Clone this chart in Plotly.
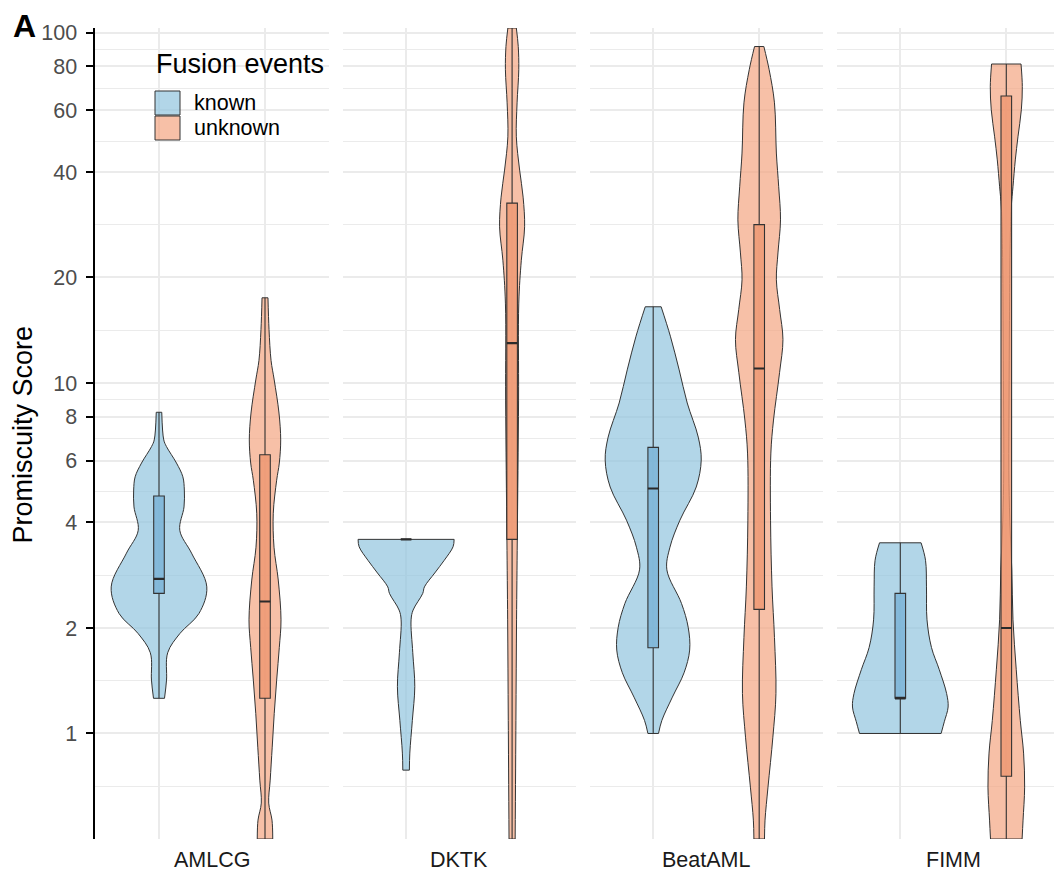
import numpy as np
import plotly.graph_objects as go

# ---------------- data ----------------
datasets = ["AMLCG", "DKTK", "BeatAML", "FIMM"]
fusion_groups = ["known", "unknown"]

# violin profiles: score levels (top -> bottom) and density half-width (x units)
amlcg_known_score = [8.25, 6.88, 6.59, 5.91, 5.40, 4.95, 4.43, 3.80, 3.27, 2.62, 2.20, 1.93, 1.70, 1.42, 1.26]
amlcg_known_dens = [0.026, 0.045, 0.070, 0.165, 0.225, 0.239, 0.236, 0.196, 0.307, 0.451, 0.377, 0.198, 0.082, 0.071, 0.052]

amlcg_unknown_score = [17.5, 14.2, 11.6, 10.2, 8.21, 6.88, 5.91, 5.28, 4.25, 3.40, 2.74, 2.11, 1.76, 1.42, 1.14, 0.914, 0.736, 0.633, 0.566, 0.5]
amlcg_unknown_dens = [0.028, 0.038, 0.057, 0.087, 0.132, 0.148, 0.135, 0.110, 0.078, 0.085, 0.125, 0.151, 0.135, 0.110, 0.087, 0.068, 0.049, 0.035, 0.066, 0.073]

dktk_known_score = [3.58, 3.41, 3.12, 2.87, 2.62, 2.51, 2.25, 2.11, 1.70, 1.36, 1.09, 0.879, 0.786]
dktk_known_dens = [0.453, 0.443, 0.360, 0.270, 0.173, 0.157, 0.066, 0.047, 0.063, 0.082, 0.059, 0.035, 0.031]

dktk_unknown_score = [103, 91.2, 78.3, 63.0, 50.4, 40.5, 33.9, 27.9, 22.4, 16.9, 8.94, 3.58, 2.11, 1.09, 0.5]
dktk_unknown_dens = [0.040, 0.058, 0.063, 0.047, 0.040, 0.071, 0.104, 0.118, 0.087, 0.063, 0.061, 0.049, 0.042, 0.036, 0.029]

beataml_known_score = [16.5, 13.6, 10.9, 8.77, 7.01, 6.03, 5.05, 4.06, 3.40, 2.93, 2.35, 2.01, 1.73, 1.49, 1.27, 1.09, 1.0]
beataml_known_dens = [0.075, 0.162, 0.245, 0.321, 0.425, 0.453, 0.406, 0.252, 0.158, 0.129, 0.267, 0.330, 0.344, 0.291, 0.181, 0.082, 0.050]

beataml_unknown_score = [91.2, 78.3, 63.0, 45.3, 36.3, 29.2, 23.5, 19.7, 16.2, 13.3, 10.7, 7.84, 6.31, 4.06, 2.62, 1.88, 1.30, 0.976, 0.703, 0.566, 0.5]
beataml_unknown_dens = [0.044, 0.094, 0.144, 0.162, 0.184, 0.201, 0.177, 0.162, 0.193, 0.224, 0.192, 0.135, 0.110, 0.107, 0.121, 0.144, 0.158, 0.129, 0.083, 0.055, 0.050]

fimm_known_score = [3.50, 3.12, 2.62, 2.11, 1.76, 1.52, 1.30, 1.19, 1.08, 1.0]
fimm_known_dens = [0.196, 0.238, 0.247, 0.252, 0.294, 0.368, 0.437, 0.451, 0.415, 0.385]

fimm_unknown_score = [81.3, 70.1, 60.2, 50.4, 43.3, 36.3, 31.8, 24.0, 15.1, 8.94, 5.64, 4.06, 2.93, 2.11, 1.52, 1.09, 0.879, 0.703, 0.566, 0.5]
fimm_unknown_dens = [0.139, 0.151, 0.142, 0.110, 0.085, 0.063, 0.047, 0.036, 0.030, 0.026, 0.024, 0.033, 0.052, 0.063, 0.094, 0.132, 0.163, 0.173, 0.158, 0.149]

violin_score = {
    ("AMLCG", "known"): amlcg_known_score, ("AMLCG", "unknown"): amlcg_unknown_score,
    ("DKTK", "known"): dktk_known_score, ("DKTK", "unknown"): dktk_unknown_score,
    ("BeatAML", "known"): beataml_known_score, ("BeatAML", "unknown"): beataml_unknown_score,
    ("FIMM", "known"): fimm_known_score, ("FIMM", "unknown"): fimm_unknown_score,
}
violin_dens = {
    ("AMLCG", "known"): amlcg_known_dens, ("AMLCG", "unknown"): amlcg_unknown_dens,
    ("DKTK", "known"): dktk_known_dens, ("DKTK", "unknown"): dktk_unknown_dens,
    ("BeatAML", "known"): beataml_known_dens, ("BeatAML", "unknown"): beataml_unknown_dens,
    ("FIMM", "known"): fimm_known_dens, ("FIMM", "unknown"): fimm_unknown_dens,
}

# boxplot statistics per dataset
known_q1 = [2.51, 3.58, 1.756, 1.26]
known_median = [2.76, 3.58, 5.0, 1.26]
known_q3 = [4.76, 3.58, 6.55, 2.51]
known_lower = [1.26, 3.58, 1.0, 1.0]
known_upper = [8.25, 3.58, 16.5, 3.5]

unknown_q1 = [1.26, 3.58, 2.26, 0.755]
unknown_median = [2.38, 13.0, 11.0, 2.0]
unknown_q3 = [6.24, 32.6, 28.3, 65.9]
unknown_lower = [0.5, 0.5, 0.5, 0.5]
unknown_upper = [17.5, 103, 91.2, 81.3]

box_stats = {
    "known": (known_q1, known_median, known_q3, known_lower, known_upper),
    "unknown": (unknown_q1, unknown_median, unknown_q3, unknown_lower, unknown_upper),
}

y_ticks = [1, 2, 4, 6, 8, 10, 20, 40, 60, 80, 100]
y_min, y_max = 0.5, 103

# ---------------- style ----------------
OFF = 8                      # page body margin of the html page
WIN_W, WIN_H = 1062, 877
W, H = WIN_W - OFF, WIN_H - OFF
PLOT_TOP, PLOT_BOT = 28, 839  # target (window) pixels
M_T, M_B = PLOT_TOP - OFF, WIN_H - PLOT_BOT
PLOT_H = H - M_T - M_B
FONT = "Liberation Sans, Arial, Helvetica, sans-serif"
fill_col = {"known": "rgba(146,197,222,0.7)", "unknown": "rgba(244,165,130,0.7)"}
box_col = {"known": "rgba(120,178,214,0.8)", "unknown": "rgba(238,150,112,0.8)"}
edge = "#333333"
grid = "#EBEBEB"
pos = {"known": 1, "unknown": 2}
BOX_W = 0.1

px_per_unit = 106.0
panel_left = [95.4 + 247.1 * i - OFF for i in range(4)]
panel_w = 2.2 * px_per_unit


def fx(xwin):
    return (xwin - OFF) / W


def fy(ywin):
    return (PLOT_BOT - ywin) / PLOT_H


def ax(prefix, i):
    return prefix if i == 0 else f"{prefix}{i+1}"


fig = go.Figure()

# violins: left outline, right outline filled to the left one, flat end caps
for i, ds in enumerate(datasets):
    xa, ya = ax("x", i), ax("y", i)
    for g in fusion_groups:
        s = np.array(violin_score[(ds, g)], dtype=float)
        d = np.array(violin_dens[(ds, g)], dtype=float)
        c = pos[g]
        line = dict(color=edge, width=1, shape="spline", smoothing=1.0)
        fig.add_trace(go.Scatter(x=c - d, y=s, xaxis=xa, yaxis=ya, mode="lines",
                                 line=line, showlegend=False, hoverinfo="skip"))
        fig.add_trace(go.Scatter(x=c + d, y=s, xaxis=xa, yaxis=ya, mode="lines",
                                 line=line, fill="tonextx", fillcolor=fill_col[g],
                                 showlegend=False, hoverinfo="skip"))
        fig.add_trace(go.Scatter(
            x=[c - d[0], c + d[0], None, c - d[-1], c + d[-1]],
            y=[s[0], s[0], None, s[-1], s[-1]], xaxis=xa, yaxis=ya, mode="lines",
            line=dict(color=edge, width=1), showlegend=False, hoverinfo="skip"))

# boxes (on overlaying x axes so they sit above the violins)
for i, ds in enumerate(datasets):
    xa, ya = f"x{i+5}", ax("y", i)
    for g in fusion_groups:
        q1, med, q3, lo, hi = box_stats[g]
        fig.add_trace(go.Box(
            x=[pos[g]], q1=[q1[i]], median=[med[i]], q3=[q3[i]],
            lowerfence=[lo[i]], upperfence=[hi[i]], width=BOX_W, whiskerwidth=0,
            fillcolor=box_col[g], line=dict(color=edge, width=1.1), boxpoints=False,
            xaxis=xa, yaxis=ya, showlegend=False, hoverinfo="skip"))
    # thicker median bars, as in the boxplot style
    for g in fusion_groups:
        med = box_stats[g][1][i]
        fig.add_trace(go.Scatter(
            x=[pos[g] - BOX_W / 2, pos[g] + BOX_W / 2], y=[med, med], xaxis=xa, yaxis=ya,
            mode="lines", line=dict(color="#2a2a2a", width=2.2),
            showlegend=False, hoverinfo="skip"))

minor_vals = [y_ticks[0] / np.sqrt(y_ticks[1] / y_ticks[0])] + \
    [float(np.sqrt(a * b)) for a, b in zip(y_ticks[:-1], y_ticks[1:])]

layout = dict(
    width=W, height=H, margin=dict(l=0, r=0, t=M_T, b=M_B, autoexpand=False),
    plot_bgcolor="white", paper_bgcolor="white", showlegend=False,
    font=dict(family=FONT, color="#000000"),
)

for i in range(4):
    left = panel_left[i]
    right = min(left + panel_w, W)
    xr = [0.4, 0.4 + (right - left) / px_per_unit]
    layout[ax("xaxis", i)] = dict(
        domain=[left / W, right / W], range=xr,
        tickmode="array", tickvals=[1, 2], showticklabels=False, ticks="",
        showgrid=True, gridcolor=grid, gridwidth=2, zeroline=False, showline=False,
        anchor=ax("y", i), fixedrange=True, automargin=False)
    layout[f"xaxis{i+5}"] = dict(
        overlaying=ax("x", i), anchor=ax("y", i), range=xr, visible=False,
        showgrid=False, zeroline=False, fixedrange=True, automargin=False)
    yd = dict(
        type="log", range=[np.log10(y_min), np.log10(y_max)], domain=[0, 1],
        tickmode="array", tickvals=y_ticks, ticktext=[str(t) for t in y_ticks],
        showgrid=True, gridcolor=grid, gridwidth=2, zeroline=False,
        minor=dict(tickmode="array", tickvals=minor_vals, showgrid=True,
                   gridcolor=grid, gridwidth=1, ticks=""),
        anchor=ax("x", i), fixedrange=True, automargin=False)
    if i == 0:
        yd.update(showline=True, linecolor="black", linewidth=2, ticks="outside",
                  ticklen=7, tickwidth=2, tickcolor="black", ticklabelstandoff=5,
                  tickfont=dict(size=21.5, color="#4D4D4D", family=FONT))
    else:
        yd.update(showline=False, ticks="", showticklabels=False)
    layout[ax("yaxis", i)] = yd

annotations = []
# panel labels
for i, ds in enumerate(datasets):
    annotations.append(dict(
        text=ds, xref=ax("x", i), x=1.5, yref="paper", y=fy(860),
        xanchor="center", yanchor="middle", showarrow=False,
        font=dict(size=21.5, color="#1A1A1A", family=FONT)))
# y title
annotations.append(dict(
    text="Promiscuity Score", xref="paper", yref="paper", x=fx(22.5), y=fy(435),
    textangle=-90, xanchor="center", yanchor="middle", showarrow=False,
    font=dict(size=27, color="#000000", family=FONT)))
# panel tag
annotations.append(dict(
    text="<b>A</b>", xref="paper", yref="paper", x=fx(24.5), y=fy(26),
    xanchor="center", yanchor="middle", showarrow=False, borderpad=0,
    font=dict(size=32, color="#000000", family=FONT)))
# legend
annotations.append(dict(
    text="Fusion events", xref="paper", yref="paper", x=fx(154), y=fy(64),
    xanchor="left", yanchor="middle", showarrow=False,
    font=dict(size=27, color="#000000", family=FONT)))
shapes = []
for k, g in enumerate(fusion_groups):
    y0 = 91 + 25 * k
    shapes.append(dict(type="rect", xref="paper", yref="paper",
                       x0=fx(155), x1=fx(180), y0=fy(y0), y1=fy(y0 + 24),
                       fillcolor=fill_col[g], line=dict(color=edge, width=1)))
    annotations.append(dict(
        text=g, xref="paper", yref="paper", x=fx(192), y=fy(y0 + 12),
        xanchor="left", yanchor="middle", showarrow=False,
        font=dict(size=21.5, color="#000000", family=FONT)))

layout["annotations"] = annotations
layout["shapes"] = shapes
fig.update_layout(**layout)

fig.write_html("out.html")
